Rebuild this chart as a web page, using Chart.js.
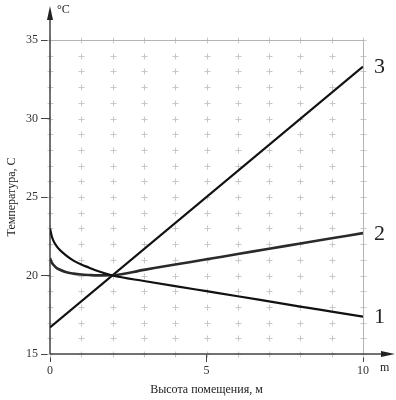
<!DOCTYPE html>
<html>
<head>
<meta charset="utf-8">
<script src="https://cdn.jsdelivr.net/npm/chart.js@4.4.1/dist/chart.umd.min.js"></script>
<style>
  html, body { margin: 0; padding: 0; background: #fff; }
  #wrap { width: 396px; height: 400px; }
</style>
</head>
<body>
<div id="wrap"><canvas id="myChart" width="396" height="400"></canvas></div>
<script>
// Heights (m) at which the curves were read
const heights = [0, 0.05, 0.1, 0.2, 0.3, 0.5, 0.75, 1, 1.25, 1.5, 2, 3, 4, 5, 6, 7, 8, 9, 10]
// Curve 1 and 2 temperatures (C)
const curve1 = [23.0, 22.55, 22.25, 21.9, 21.65, 21.3, 20.95, 20.7, 20.5, 20.3, 20.0, 19.65, 19.32, 19.0, 18.68, 18.35, 18.02, 17.7, 17.38]
const curve2 = [21.1, 20.85, 20.7, 20.5, 20.38, 20.22, 20.12, 20.06, 20.03, 20.01, 20.02, 20.36, 20.7, 21.03, 21.37, 21.7, 22.04, 22.37, 22.7]
// Curve 3 is a straight line
const heights3 = [0, 10]
const curve3 = [16.7, 33.3]
const curveLabels = ['1', '2', '3']
const xTickLabels = [0, 5, 10]
const yTickLabels = [15, 20, 25, 30, 35]

const serif = '"Liberation Serif", "DejaVu Serif", serif'
const toPoints = (xs, ys) => xs.map((x, i) => ({ x: x, y: ys[i] }))

// light "+" marks at every grid node, plus frame, axes and arrows
const paperPlugin = {
  id: 'paper',
  beforeDatasetsDraw(chart) {
    const { ctx, chartArea: a, scales: { x, y } } = chart
    ctx.save()
    ctx.strokeStyle = '#c8c8c8'
    ctx.lineWidth = 1
    x.ticks.forEach(tx => {
      y.ticks.forEach(ty => {
        const px = Math.round(x.getPixelForValue(tx.value)) + 0.5
        const py = Math.round(y.getPixelForValue(ty.value)) + 0.5
        ctx.beginPath()
        ctx.moveTo(px - 3, py); ctx.lineTo(px + 3, py)
        ctx.moveTo(px, py - 3); ctx.lineTo(px, py + 3)
        ctx.stroke()
      })
    })
    // top and right frame
    ctx.strokeStyle = '#b4b4b4'
    ctx.beginPath()
    ctx.moveTo(a.left, a.top + 0.5); ctx.lineTo(a.right + 0.5, a.top + 0.5)
    ctx.lineTo(a.right + 0.5, a.bottom)
    ctx.stroke()
    // main axes with arrows
    ctx.strokeStyle = '#444'
    ctx.fillStyle = '#222'
    ctx.lineWidth = 1.5
    ctx.beginPath()
    ctx.moveTo(a.left, a.bottom); ctx.lineTo(a.left, 14)
    ctx.moveTo(a.left, a.bottom); ctx.lineTo(388, a.bottom)
    ctx.stroke()
    ctx.beginPath()
    ctx.moveTo(a.left, 6); ctx.lineTo(a.left - 3, 20); ctx.lineTo(a.left + 3, 20); ctx.closePath()
    ctx.fill()
    ctx.beginPath()
    ctx.moveTo(395, a.bottom); ctx.lineTo(381, a.bottom - 3); ctx.lineTo(381, a.bottom + 3); ctx.closePath()
    ctx.fill()
    ctx.restore()
  },
  afterDatasetsDraw(chart) {
    const { ctx, chartArea: a } = chart
    ctx.save()
    ctx.fillStyle = '#222'
    ctx.textBaseline = 'middle'
    ctx.font = '22px ' + serif
    chart.data.datasets.forEach((ds, i) => {
      if (!ds.label) return
      const meta = chart.getDatasetMeta(i)
      const last = meta.data[meta.data.length - 1]
      ctx.fillText(ds.label, last.x + 11, last.y + 1)
    })
    ctx.font = '12px ' + serif
    ctx.fillText('°C', a.left + 7, 10)
    ctx.fillText('m', 380, a.bottom + 14)
    ctx.restore()
  }
}

const labelledColor = (list, on) => c => list.includes(c.tick.value) ? on : 'rgba(0,0,0,0)'

const config = {
  type: 'scatter',
  data: {
    datasets: [
      {
        label: curveLabels[0],
        data: toPoints(heights, curve1),
        showLine: true,
        borderColor: '#111',
        borderWidth: 2.2,
        pointRadius: 0,
        cubicInterpolationMode: 'monotone'
      },
      {
        label: curveLabels[1],
        data: toPoints(heights, curve2),
        showLine: true,
        borderColor: '#2a2a2a',
        borderWidth: 2.6,
        pointRadius: 0,
        cubicInterpolationMode: 'monotone'
      },
      {
        // light dots running along curve 2
        label: '',
        data: toPoints(heights, curve2),
        showLine: true,
        borderColor: '#e6e6e6',
        borderWidth: 1,
        borderDash: [1, 1.5],
        pointRadius: 0,
        cubicInterpolationMode: 'monotone'
      },
      {
        label: curveLabels[2],
        data: toPoints(heights3, curve3),
        showLine: true,
        borderColor: '#111',
        borderWidth: 2.2,
        pointRadius: 0
      }
    ]
  },
  options: {
    responsive: false,
    animation: false,
    layout: { padding: { top: 40, right: 33, left: 0, bottom: 0 } },
    plugins: {
      legend: { display: false },
      tooltip: { enabled: false }
    },
    scales: {
      x: {
        type: 'linear',
        min: 0,
        max: 10,
        afterFit: s => { s.height = 46 },
        ticks: {
          stepSize: 1,
          autoSkip: false,
          maxRotation: 0,
          padding: 2,
          color: '#333',
          font: { family: serif, size: 12 },
          callback: v => xTickLabels.includes(v) ? v : ''
        },
        grid: {
          drawOnChartArea: false,
          tickLength: 8,
          color: labelledColor(xTickLabels, '#444')
        },
        border: { display: false },
        title: {
          display: true,
          text: 'Высота помещения, м',
          color: '#222',
          font: { family: serif, size: 12 },
          padding: { top: 0, bottom: 3 }
        }
      },
      y: {
        min: 15,
        max: 35,
        afterFit: s => { s.width = 50 },
        ticks: {
          stepSize: 1,
          autoSkip: false,
          padding: 3,
          color: '#333',
          font: { family: serif, size: 12 },
          callback: v => yTickLabels.includes(v) ? v : ''
        },
        grid: {
          drawOnChartArea: false,
          tickLength: 9,
          color: labelledColor(yTickLabels, '#444')
        },
        border: { display: false },
        title: {
          display: true,
          text: 'Температура, С',
          color: '#222',
          font: { family: serif, size: 12 },
          padding: { top: 5, bottom: 0 }
        }
      }
    }
  },
  plugins: [paperPlugin]
}

const canvas = document.getElementById('myChart')
new Chart(canvas, config)
</script>
</body>
</html>
